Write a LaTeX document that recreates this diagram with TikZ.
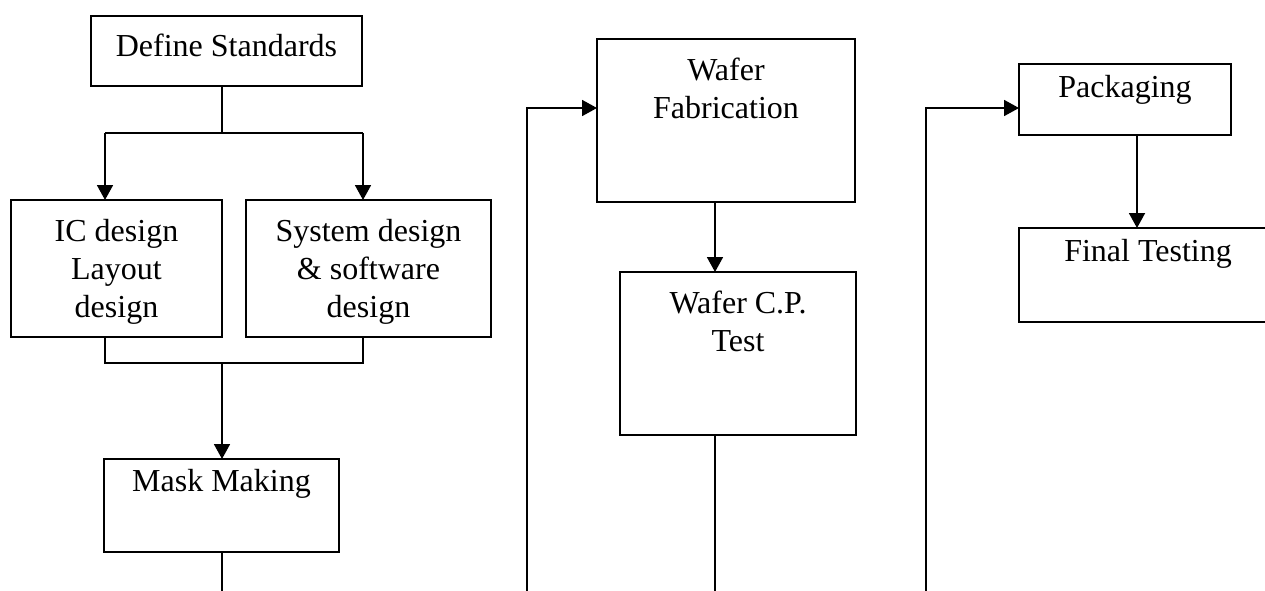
\documentclass[tikz,border=0pt]{standalone}
\usepackage{fontspec}
\setmainfont{Liberation Serif}
\usetikzlibrary{positioning,arrows.meta,calc}

\begin{document}
\begin{tikzpicture}[x=1pt, y=-1pt, line width=1.8pt,
  font=\fontsize{32}{38}\selectfont,
  stage/.style={draw, anchor=north west, inner sep=0pt, outer sep=0pt},
  caption/.style={anchor=north, align=center, inner sep=0pt},
  flow/.style={-{Triangle[length=15pt,width=16pt]}}]
\clip (0,0) rectangle (1265,590);
% process boxes, placed by their top left corner
\node[stage, minimum width=271pt, minimum height=70pt] (std) at (91,16) {};
\node[stage, minimum width=211pt, minimum height=137pt] (ic) at (11,200) {};
\node[stage, minimum width=245pt, minimum height=137pt] (sys) at (246,200) {};
\node[stage, minimum width=235pt, minimum height=93pt] (mask) at (104,459) {};
\node[stage, minimum width=258pt, minimum height=163pt] (fab) at (597,39) {};
\node[stage, minimum width=236pt, minimum height=163pt] (cp) at (620,272) {};
\node[stage, minimum width=212pt, minimum height=71pt] (pack) at (1019,64) {};
\node[stage, minimum width=258pt, minimum height=94pt] (final) at (1019,228) {};
% texts sit at the top of each box
\node[caption] (std-t) at ([yshift=-17pt]std.north) {Define Standards};
\node[caption] (ic-t) at ([yshift=-18pt]ic.north) {IC design\\Layout\\design};
\node[caption] (sys-t) at ([yshift=-18pt]sys.north) {System design\\\& software\\design};
\node[caption] (mask-t) at ([yshift=-9pt]mask.north) {Mask Making};
\node[caption] (fab-t) at ([yshift=-18pt]fab.north) {Wafer\\Fabrication};
\node[caption] (cp-t) at ([yshift=-18pt]cp.north) {Wafer C.P.\\Test};
\node[caption] (pack-t) at ([yshift=-10pt]pack.north) {Packaging};
\node[caption] (final-t) at ([yshift=-10pt]final.north) {Final Testing};
% split into the two design branches
\coordinate (fork) at (222,133);
\coordinate (lft) at (105,133);
\coordinate (rgt) at (363,133);
\draw (std.south -| fork) -- (fork);
\draw (lft) -- (rgt);
\draw[flow] (lft) -- (lft |- ic.north);
\draw[flow] (rgt) -- (rgt |- sys.north);
% branches meet again above mask making
\coordinate (join) at (222,363);
\draw (ic.south -| lft) |- (join) -| (sys.south -| rgt);
\draw[flow] (join) -- (join |- mask.north);
\draw (mask.south -| join) -- ++(0,50);
% wafer stage
\coordinate (feed1) at (527,600);
\draw[flow] (feed1) |- (fab.west |- 0,108);
\draw[flow] (fab.south -| 715,0) -- (cp.north -| 715,0);
\draw (cp.south -| 715,0) -- ++(0,170);
% packaging stage
\coordinate (feed2) at (926,600);
\draw[flow] (feed2) |- (pack.west |- 0,108);
\draw[flow] (pack.south -| 1137,0) -- (final.north -| 1137,0);
\end{tikzpicture}
\end{document}
